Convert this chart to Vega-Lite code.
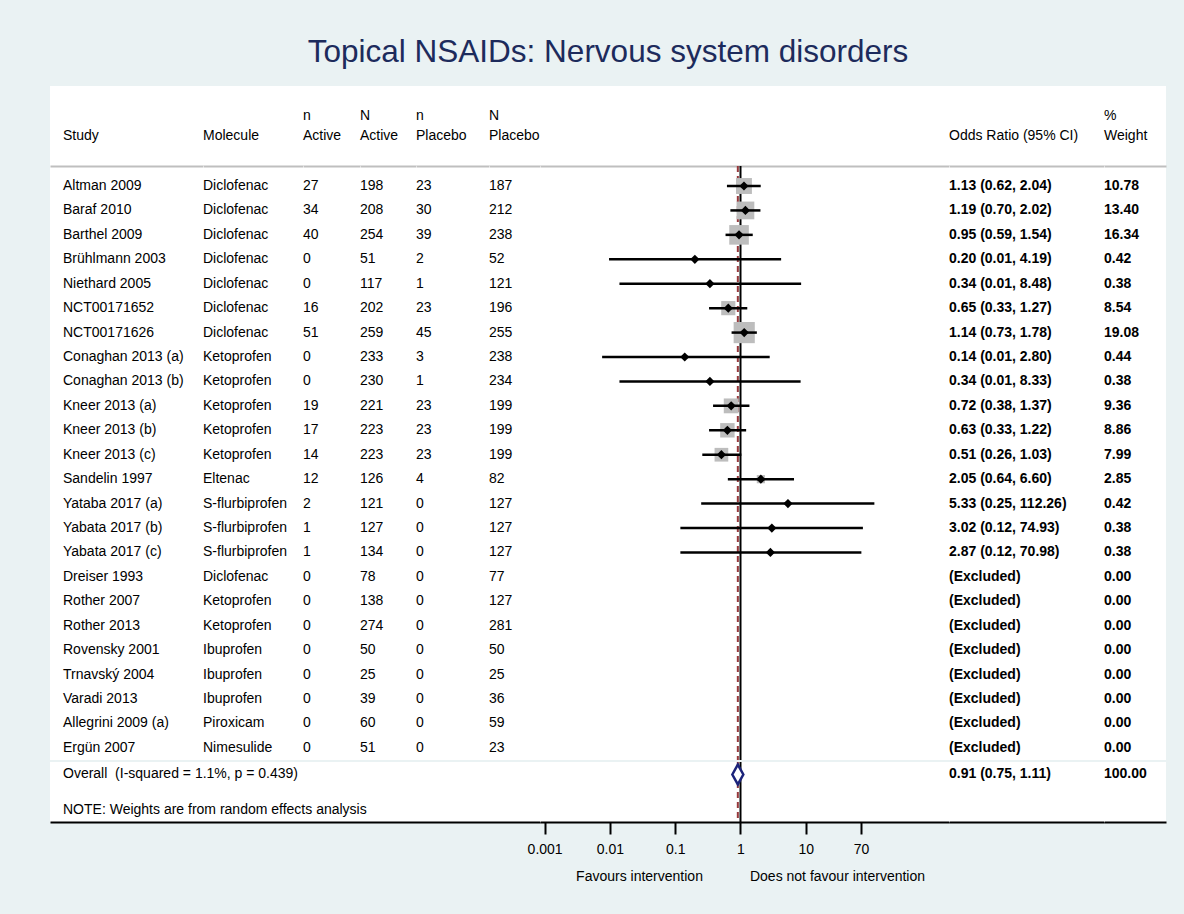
{
"$schema": "https://vega.github.io/schema/vega-lite/v6.json",
"background": "#eaf2f3",
"padding": {"left": 50, "right": 18, "top": 36, "bottom": 34},
"title": {"text": "Topical NSAIDs: Nervous system disorders", "fontSize": 31.5, "font": "Liberation Sans", "fontWeight": "normal", "color": "#1d2b5c", "anchor": "middle", "baseline": "alphabetic", "offset": -7},
"config": {
 "view": {"stroke": null, "fill": "white"},
 "font": "Liberation Sans",
 "text": {"font": "Liberation Sans", "fontSize": 14, "color": "black"},
 "axis": {"grid": false, "labelFont": "Liberation Sans", "titleFont": "Liberation Sans", "labelFontSize": 14, "titleFontSize": 14, "titleFontWeight": "normal", "labelColor": "black", "titleColor": "black"}
},
"datasets": {"rows": [
 {"type":"study","s":"Altman 2009","m":"Diclofenac","na":27,"Na":198,"np":23,"Np":187,"or":1.13,"lo":0.62,"hi":2.04,"w":10.78},
 {"type":"study","s":"Baraf 2010","m":"Diclofenac","na":34,"Na":208,"np":30,"Np":212,"or":1.19,"lo":0.70,"hi":2.02,"w":13.40},
 {"type":"study","s":"Barthel 2009","m":"Diclofenac","na":40,"Na":254,"np":39,"Np":238,"or":0.95,"lo":0.59,"hi":1.54,"w":16.34},
 {"type":"study","s":"Brühlmann 2003","m":"Diclofenac","na":0,"Na":51,"np":2,"Np":52,"or":0.20,"lo":0.0097,"hi":4.19,"w":0.42},
 {"type":"study","s":"Niethard 2005","m":"Diclofenac","na":0,"Na":117,"np":1,"Np":121,"or":0.34,"lo":0.014,"hi":8.48,"w":0.38},
 {"type":"study","s":"NCT00171652","m":"Diclofenac","na":16,"Na":202,"np":23,"Np":196,"or":0.65,"lo":0.33,"hi":1.27,"w":8.54},
 {"type":"study","s":"NCT00171626","m":"Diclofenac","na":51,"Na":259,"np":45,"Np":255,"or":1.14,"lo":0.73,"hi":1.78,"w":19.08},
 {"type":"study","s":"Conaghan 2013 (a)","m":"Ketoprofen","na":0,"Na":233,"np":3,"Np":238,"or":0.14,"lo":0.0076,"hi":2.80,"w":0.44},
 {"type":"study","s":"Conaghan 2013 (b)","m":"Ketoprofen","na":0,"Na":230,"np":1,"Np":234,"or":0.34,"lo":0.014,"hi":8.33,"w":0.38},
 {"type":"study","s":"Kneer 2013 (a)","m":"Ketoprofen","na":19,"Na":221,"np":23,"Np":199,"or":0.72,"lo":0.38,"hi":1.37,"w":9.36},
 {"type":"study","s":"Kneer 2013 (b)","m":"Ketoprofen","na":17,"Na":223,"np":23,"Np":199,"or":0.63,"lo":0.33,"hi":1.22,"w":8.86},
 {"type":"study","s":"Kneer 2013 (c)","m":"Ketoprofen","na":14,"Na":223,"np":23,"Np":199,"or":0.51,"lo":0.26,"hi":1.03,"w":7.99},
 {"type":"study","s":"Sandelin 1997","m":"Eltenac","na":12,"Na":126,"np":4,"Np":82,"or":2.05,"lo":0.64,"hi":6.60,"w":2.85},
 {"type":"study","s":"Yataba 2017 (a)","m":"S-flurbiprofen","na":2,"Na":121,"np":0,"Np":127,"or":5.33,"lo":0.25,"hi":112.26,"w":0.42},
 {"type":"study","s":"Yabata 2017 (b)","m":"S-flurbiprofen","na":1,"Na":127,"np":0,"Np":127,"or":3.02,"lo":0.12,"hi":74.93,"w":0.38},
 {"type":"study","s":"Yabata 2017 (c)","m":"S-flurbiprofen","na":1,"Na":134,"np":0,"Np":127,"or":2.87,"lo":0.12,"hi":70.98,"w":0.38},
 {"type":"study","s":"Dreiser 1993","m":"Diclofenac","na":0,"Na":78,"np":0,"Np":77,"w":0},
 {"type":"study","s":"Rother 2007","m":"Ketoprofen","na":0,"Na":138,"np":0,"Np":127,"w":0},
 {"type":"study","s":"Rother 2013","m":"Ketoprofen","na":0,"Na":274,"np":0,"Np":281,"w":0},
 {"type":"study","s":"Rovensky 2001","m":"Ibuprofen","na":0,"Na":50,"np":0,"Np":50,"w":0},
 {"type":"study","s":"Trnavský 2004","m":"Ibuprofen","na":0,"Na":25,"np":0,"Np":25,"w":0},
 {"type":"study","s":"Varadi 2013","m":"Ibuprofen","na":0,"Na":39,"np":0,"Np":36,"w":0},
 {"type":"study","s":"Allegrini 2009 (a)","m":"Piroxicam","na":0,"Na":60,"np":0,"Np":59,"w":0},
 {"type":"study","s":"Ergün 2007","m":"Nimesulide","na":0,"Na":51,"np":0,"Np":23,"w":0},
 {"type":"overall","s":"Overall\u00a0 (I-squared = 1.1%, p = 0.439)","or":0.91,"lo":0.75,"hi":1.11,"w":100},
 {"type":"note","s":"NOTE: Weights are from random effects analysis"}
]},
"spacing": -2,
"vconcat": [
 {"spacing": 0, "bounds": "flush", "hconcat": [
  {"width":153,"height":80,"data":{"values":[{"h":"Study"}]},"mark":{"type":"text","align":"left","baseline":"middle","dx":13,"dy":10},"encoding":{"x":{"datum":0,"type":"quantitative","scale":{"domain":[0,1]},"axis":null},"text":{"field":"h"}}},
  {"width":100,"height":80,"data":{"values":[{"h":"Molecule"}]},"mark":{"type":"text","align":"left","baseline":"middle","dy":10},"encoding":{"x":{"datum":0,"type":"quantitative","scale":{"domain":[0,1]},"axis":null},"text":{"field":"h"}}},
  {"width":57,"height":80,"data":{"values":[{"h":["n","Active"]}]},"mark":{"type":"text","align":"left","baseline":"middle","lineHeight":20,"dy":-10},"encoding":{"x":{"datum":0,"type":"quantitative","scale":{"domain":[0,1]},"axis":null},"text":{"field":"h"}}},
  {"width":56,"height":80,"data":{"values":[{"h":["N","Active"]}]},"mark":{"type":"text","align":"left","baseline":"middle","lineHeight":20,"dy":-10},"encoding":{"x":{"datum":0,"type":"quantitative","scale":{"domain":[0,1]},"axis":null},"text":{"field":"h"}}},
  {"width":73,"height":80,"data":{"values":[{"h":["n","Placebo"]}]},"mark":{"type":"text","align":"left","baseline":"middle","lineHeight":20,"dy":-10},"encoding":{"x":{"datum":0,"type":"quantitative","scale":{"domain":[0,1]},"axis":null},"text":{"field":"h"}}},
  {"width":460,"height":80,"data":{"values":[{"h":["N","Placebo"]}]},"mark":{"type":"text","align":"left","baseline":"middle","lineHeight":20,"dy":-10},"encoding":{"x":{"datum":0,"type":"quantitative","scale":{"domain":[0,1]},"axis":null},"text":{"field":"h"}}},
  {"width":155,"height":80,"data":{"values":[{"h":"Odds Ratio (95% CI)"}]},"mark":{"type":"text","align":"left","baseline":"middle","dy":10},"encoding":{"x":{"datum":0,"type":"quantitative","scale":{"domain":[0,1]},"axis":null},"text":{"field":"h"}}},
  {"width":62,"height":80,"data":{"values":[{"h":["%","Weight"]}]},"mark":{"type":"text","align":"left","baseline":"middle","lineHeight":20,"dy":-10},"encoding":{"x":{"datum":0,"type":"quantitative","scale":{"domain":[0,1]},"axis":null},"text":{"field":"h"}}}
 ]},
 {"spacing": 0, "bounds": "flush", "hconcat": [
  {"width":153,"height":594,"data":{"name":"rows"},"transform":[{"filter":"datum.type == 'study'"}],"mark":{"type":"text","align":"left","baseline":"middle","dx":13},
   "encoding":{"x":{"datum":0,"type":"quantitative","scale":{"domain":[0,1]},"axis":{"orient":"top","domainColor":"#bfbfbf","domainWidth":2,"ticks":false,"labels":false,"title":null}},
    "y":{"field":"s","type":"nominal","sort":null,"scale":{"type":"point","domain":["Altman 2009","Baraf 2010","Barthel 2009","Brühlmann 2003","Niethard 2005","NCT00171652","NCT00171626","Conaghan 2013 (a)","Conaghan 2013 (b)","Kneer 2013 (a)","Kneer 2013 (b)","Kneer 2013 (c)","Sandelin 1997","Yataba 2017 (a)","Yabata 2017 (b)","Yabata 2017 (c)","Dreiser 1993","Rother 2007","Rother 2013","Rovensky 2001","Trnavský 2004","Varadi 2013","Allegrini 2009 (a)","Ergün 2007"],"padding":0.657,"align":0.623},"axis":null},
    "text":{"field":"s"}}},
  {"width":100,"height":594,"data":{"name":"rows"},"transform":[{"filter":"datum.type == 'study'"}],"mark":{"type":"text","align":"left","baseline":"middle"},
   "encoding":{"x":{"datum":0,"type":"quantitative","scale":{"domain":[0,1]},"axis":{"orient":"top","domainColor":"#bfbfbf","domainWidth":2,"ticks":false,"labels":false,"title":null}},
    "y":{"field":"s","type":"nominal","sort":null,"scale":{"type":"point","domain":["Altman 2009","Baraf 2010","Barthel 2009","Brühlmann 2003","Niethard 2005","NCT00171652","NCT00171626","Conaghan 2013 (a)","Conaghan 2013 (b)","Kneer 2013 (a)","Kneer 2013 (b)","Kneer 2013 (c)","Sandelin 1997","Yataba 2017 (a)","Yabata 2017 (b)","Yabata 2017 (c)","Dreiser 1993","Rother 2007","Rother 2013","Rovensky 2001","Trnavský 2004","Varadi 2013","Allegrini 2009 (a)","Ergün 2007"],"padding":0.657,"align":0.623},"axis":null},
    "text":{"field":"m"}}},
  {"width":57,"height":594,"data":{"name":"rows"},"transform":[{"filter":"datum.type == 'study'"}],"mark":{"type":"text","align":"left","baseline":"middle"},
   "encoding":{"x":{"datum":0,"type":"quantitative","scale":{"domain":[0,1]},"axis":{"orient":"top","domainColor":"#bfbfbf","domainWidth":2,"ticks":false,"labels":false,"title":null}},
    "y":{"field":"s","type":"nominal","sort":null,"scale":{"type":"point","domain":["Altman 2009","Baraf 2010","Barthel 2009","Brühlmann 2003","Niethard 2005","NCT00171652","NCT00171626","Conaghan 2013 (a)","Conaghan 2013 (b)","Kneer 2013 (a)","Kneer 2013 (b)","Kneer 2013 (c)","Sandelin 1997","Yataba 2017 (a)","Yabata 2017 (b)","Yabata 2017 (c)","Dreiser 1993","Rother 2007","Rother 2013","Rovensky 2001","Trnavský 2004","Varadi 2013","Allegrini 2009 (a)","Ergün 2007"],"padding":0.657,"align":0.623},"axis":null},
    "text":{"field":"na","type":"nominal"}}},
  {"width":56,"height":594,"data":{"name":"rows"},"transform":[{"filter":"datum.type == 'study'"}],"mark":{"type":"text","align":"left","baseline":"middle"},
   "encoding":{"x":{"datum":0,"type":"quantitative","scale":{"domain":[0,1]},"axis":{"orient":"top","domainColor":"#bfbfbf","domainWidth":2,"ticks":false,"labels":false,"title":null}},
    "y":{"field":"s","type":"nominal","sort":null,"scale":{"type":"point","domain":["Altman 2009","Baraf 2010","Barthel 2009","Brühlmann 2003","Niethard 2005","NCT00171652","NCT00171626","Conaghan 2013 (a)","Conaghan 2013 (b)","Kneer 2013 (a)","Kneer 2013 (b)","Kneer 2013 (c)","Sandelin 1997","Yataba 2017 (a)","Yabata 2017 (b)","Yabata 2017 (c)","Dreiser 1993","Rother 2007","Rother 2013","Rovensky 2001","Trnavský 2004","Varadi 2013","Allegrini 2009 (a)","Ergün 2007"],"padding":0.657,"align":0.623},"axis":null},
    "text":{"field":"Na","type":"nominal"}}},
  {"width":73,"height":594,"data":{"name":"rows"},"transform":[{"filter":"datum.type == 'study'"}],"mark":{"type":"text","align":"left","baseline":"middle"},
   "encoding":{"x":{"datum":0,"type":"quantitative","scale":{"domain":[0,1]},"axis":{"orient":"top","domainColor":"#bfbfbf","domainWidth":2,"ticks":false,"labels":false,"title":null}},
    "y":{"field":"s","type":"nominal","sort":null,"scale":{"type":"point","domain":["Altman 2009","Baraf 2010","Barthel 2009","Brühlmann 2003","Niethard 2005","NCT00171652","NCT00171626","Conaghan 2013 (a)","Conaghan 2013 (b)","Kneer 2013 (a)","Kneer 2013 (b)","Kneer 2013 (c)","Sandelin 1997","Yataba 2017 (a)","Yabata 2017 (b)","Yabata 2017 (c)","Dreiser 1993","Rother 2007","Rother 2013","Rovensky 2001","Trnavský 2004","Varadi 2013","Allegrini 2009 (a)","Ergün 2007"],"padding":0.657,"align":0.623},"axis":null},
    "text":{"field":"np","type":"nominal"}}},
  {"width":51,"height":594,"data":{"name":"rows"},"transform":[{"filter":"datum.type == 'study'"}],"mark":{"type":"text","align":"left","baseline":"middle"},
   "encoding":{"x":{"datum":0,"type":"quantitative","scale":{"domain":[0,1]},"axis":{"orient":"top","domainColor":"#bfbfbf","domainWidth":2,"ticks":false,"labels":false,"title":null}},
    "y":{"field":"s","type":"nominal","sort":null,"scale":{"type":"point","domain":["Altman 2009","Baraf 2010","Barthel 2009","Brühlmann 2003","Niethard 2005","NCT00171652","NCT00171626","Conaghan 2013 (a)","Conaghan 2013 (b)","Kneer 2013 (a)","Kneer 2013 (b)","Kneer 2013 (c)","Sandelin 1997","Yataba 2017 (a)","Yabata 2017 (b)","Yabata 2017 (c)","Dreiser 1993","Rother 2007","Rother 2013","Rovensky 2001","Trnavský 2004","Varadi 2013","Allegrini 2009 (a)","Ergün 2007"],"padding":0.657,"align":0.623},"axis":null},
    "text":{"field":"Np","type":"nominal"}}},
  {"width":409,"height":594,"data":{"name":"rows"},"layer":[
   {"transform":[{"filter":"datum.type == 'overall'"}],"mark":{"type":"rule","color":"black","strokeWidth":2},
    "encoding":{"x":{"datum":1,"type":"quantitative","scale":{"type":"log","domain":[0.00085,1560],"nice":false},"axis":null}}},
   {"transform":[{"filter":"datum.type == 'overall'"}],"mark":{"type":"rule","color":"#96383c","strokeWidth":2,"strokeDash":[6,4]},
    "encoding":{"x":{"field":"or","type":"quantitative","scale":{"type":"log","domain":[0.00085,1560],"nice":false},"axis":{"orient":"top","domainColor":"#bfbfbf","domainWidth":2,"ticks":false,"labels":false,"title":null}}}},
   {"transform":[{"filter":"datum.type == 'study' && isValid(datum.or)"}],"mark":{"type":"point","shape":"square","filled":true,"color":"#bdbdbd","opacity":1},
    "encoding":{"x":{"field":"or","type":"quantitative","scale":{"type":"log","domain":[0.00085,1560],"nice":false},"axis":null},
     "y":{"field":"s","type":"nominal","sort":null,"scale":{"type":"point","domain":["Altman 2009","Baraf 2010","Barthel 2009","Brühlmann 2003","Niethard 2005","NCT00171652","NCT00171626","Conaghan 2013 (a)","Conaghan 2013 (b)","Kneer 2013 (a)","Kneer 2013 (b)","Kneer 2013 (c)","Sandelin 1997","Yataba 2017 (a)","Yabata 2017 (b)","Yabata 2017 (c)","Dreiser 1993","Rother 2007","Rother 2013","Rovensky 2001","Trnavský 2004","Varadi 2013","Allegrini 2009 (a)","Ergün 2007"],"padding":0.657,"align":0.623},"axis":null},
     "size":{"field":"w","type":"quantitative","scale":{"domain":[0,20],"range":[0,470]},"legend":null}}},
   {"transform":[{"filter":"datum.type == 'study' && isValid(datum.or)"}],"mark":{"type":"rule","color":"black","strokeWidth":2.5},
    "encoding":{"x":{"field":"lo","type":"quantitative","scale":{"type":"log","domain":[0.00085,1560],"nice":false},"axis":null},
     "x2":{"field":"hi"},
     "y":{"field":"s","type":"nominal","sort":null,"scale":{"type":"point","domain":["Altman 2009","Baraf 2010","Barthel 2009","Brühlmann 2003","Niethard 2005","NCT00171652","NCT00171626","Conaghan 2013 (a)","Conaghan 2013 (b)","Kneer 2013 (a)","Kneer 2013 (b)","Kneer 2013 (c)","Sandelin 1997","Yataba 2017 (a)","Yabata 2017 (b)","Yabata 2017 (c)","Dreiser 1993","Rother 2007","Rother 2013","Rovensky 2001","Trnavský 2004","Varadi 2013","Allegrini 2009 (a)","Ergün 2007"],"padding":0.657,"align":0.623},"axis":null}}},
   {"transform":[{"filter":"datum.type == 'study' && isValid(datum.or)"}],"mark":{"type":"point","shape":"diamond","filled":true,"color":"black","size":85,"opacity":1},
    "encoding":{"x":{"field":"or","type":"quantitative","scale":{"type":"log","domain":[0.00085,1560],"nice":false},"axis":null},
     "y":{"field":"s","type":"nominal","sort":null,"scale":{"type":"point","domain":["Altman 2009","Baraf 2010","Barthel 2009","Brühlmann 2003","Niethard 2005","NCT00171652","NCT00171626","Conaghan 2013 (a)","Conaghan 2013 (b)","Kneer 2013 (a)","Kneer 2013 (b)","Kneer 2013 (c)","Sandelin 1997","Yataba 2017 (a)","Yabata 2017 (b)","Yabata 2017 (c)","Dreiser 1993","Rother 2007","Rother 2013","Rovensky 2001","Trnavský 2004","Varadi 2013","Allegrini 2009 (a)","Ergün 2007"],"padding":0.657,"align":0.623},"axis":null}}}
  ],"resolve":{"axis":{"x":"independent"}}},
  {"width":155,"height":594,"data":{"name":"rows"},"transform":[{"filter":"datum.type == 'study'"},{"calculate":"isValid(datum.or) ? format(datum.or,'.2f') + ' (' + format(datum.lo,'.2f') + ', ' + format(datum.hi,'.2f') + ')' : '(Excluded)'","as":"ci"}],"mark":{"type":"text","align":"left","baseline":"middle","fontWeight":"bold"},
   "encoding":{"x":{"datum":0,"type":"quantitative","scale":{"domain":[0,1]},"axis":{"orient":"top","domainColor":"#bfbfbf","domainWidth":2,"ticks":false,"labels":false,"title":null}},
    "y":{"field":"s","type":"nominal","sort":null,"scale":{"type":"point","domain":["Altman 2009","Baraf 2010","Barthel 2009","Brühlmann 2003","Niethard 2005","NCT00171652","NCT00171626","Conaghan 2013 (a)","Conaghan 2013 (b)","Kneer 2013 (a)","Kneer 2013 (b)","Kneer 2013 (c)","Sandelin 1997","Yataba 2017 (a)","Yabata 2017 (b)","Yabata 2017 (c)","Dreiser 1993","Rother 2007","Rother 2013","Rovensky 2001","Trnavský 2004","Varadi 2013","Allegrini 2009 (a)","Ergün 2007"],"padding":0.657,"align":0.623},"axis":null},
    "text":{"field":"ci","type":"nominal"}}},
  {"width":62,"height":594,"data":{"name":"rows"},"transform":[{"filter":"datum.type == 'study'"},{"calculate":"format(datum.w,'.2f')","as":"wt"}],"mark":{"type":"text","align":"left","baseline":"middle","fontWeight":"bold"},
   "encoding":{"x":{"datum":0,"type":"quantitative","scale":{"domain":[0,1]},"axis":{"orient":"top","domainColor":"#bfbfbf","domainWidth":2,"ticks":false,"labels":false,"title":null}},
    "y":{"field":"s","type":"nominal","sort":null,"scale":{"type":"point","domain":["Altman 2009","Baraf 2010","Barthel 2009","Brühlmann 2003","Niethard 2005","NCT00171652","NCT00171626","Conaghan 2013 (a)","Conaghan 2013 (b)","Kneer 2013 (a)","Kneer 2013 (b)","Kneer 2013 (c)","Sandelin 1997","Yataba 2017 (a)","Yabata 2017 (b)","Yabata 2017 (c)","Dreiser 1993","Rother 2007","Rother 2013","Rovensky 2001","Trnavský 2004","Varadi 2013","Allegrini 2009 (a)","Ergün 2007"],"padding":0.657,"align":0.623},"axis":null},
    "text":{"field":"wt","type":"nominal"}}}
 ]},
 {"spacing": 0, "bounds": "flush", "hconcat": [
  {"width":490,"height":60,"data":{"name":"rows"},"transform":[{"filter":"datum.type != 'study'"}],"mark":{"type":"text","align":"left","baseline":"middle","dx":13},
   "encoding":{"x":{"datum":0,"type":"quantitative","scale":{"domain":[0,1]},"axis":{"orient":"bottom","domainColor":"black","domainWidth":2,"ticks":false,"labels":false,"title":null}},
    "y":{"field":"s","type":"nominal","sort":null,"scale":{"type":"point","domain":["Overall\u00a0 (I-squared = 1.1%, p = 0.439)","NOTE: Weights are from random effects analysis"],"padding":0.345,"align":0.51},"axis":null},
    "text":{"field":"s"}}},
  {"width":409,"height":60,"data":{"name":"rows"},"layer":[
   {"transform":[{"filter":"datum.type == 'overall'"}],"mark":{"type":"rule","color":"black","strokeWidth":2},
    "encoding":{"x":{"datum":1,"type":"quantitative","scale":{"type":"log","domain":[0.00085,1560],"nice":false},"axis":null}}},
   {"transform":[{"filter":"datum.type == 'overall'"}],"mark":{"type":"rule","color":"#96383c","strokeWidth":2,"strokeDash":[6,4]},
    "encoding":{"x":{"field":"or","type":"quantitative","scale":{"type":"log","domain":[0.00085,1560],"nice":false},
     "axis":{"orient":"bottom","values":[0.001,0.01,0.1,1,10,70],"format":"~g","domainColor":"black","domainWidth":2,"tickColor":"black","tickWidth":2,"tickSize":12,"labelPadding":8,"labelFlush":false,"labelOverlap":false,"title":"Favours intervention","titleX":99,"titleY":54,"titleAlign":"center","titleBaseline":"middle","titleAnchor":null}}}},
   {"transform":[{"filter":"datum.type == 'overall'"}],"mark":{"type":"point","shape":"M-1,0L0,-1.8L1,0L0,1.8Z","filled":true,"fill":"white","stroke":"#1b237a","strokeWidth":2.5,"size":121,"opacity":1},
    "encoding":{"x":{"field":"or","type":"quantitative","scale":{"type":"log","domain":[0.00085,1560],"nice":false},"axis":null},
     "y":{"field":"s","type":"nominal","sort":null,"scale":{"type":"point","domain":["Overall\u00a0 (I-squared = 1.1%, p = 0.439)","NOTE: Weights are from random effects analysis"],"padding":0.345,"align":0.51},"axis":null}}}
  ],"resolve":{"axis":{"x":"independent"}}},
  {"width":155,"height":60,"data":{"name":"rows"},"transform":[{"filter":"datum.type == 'overall'"},{"calculate":"format(datum.or,'.2f') + ' (' + format(datum.lo,'.2f') + ', ' + format(datum.hi,'.2f') + ')'","as":"ci"}],"mark":{"type":"text","align":"left","baseline":"middle","fontWeight":"bold"},
   "encoding":{"x":{"datum":0,"type":"quantitative","scale":{"domain":[0,1]},"axis":{"orient":"bottom","domainColor":"black","domainWidth":2,"ticks":false,"labels":false,"title":"Does not favour intervention","titleX":-112,"titleY":54,"titleAlign":"center","titleBaseline":"middle","titleAnchor":null}},
    "y":{"field":"s","type":"nominal","sort":null,"scale":{"type":"point","domain":["Overall\u00a0 (I-squared = 1.1%, p = 0.439)","NOTE: Weights are from random effects analysis"],"padding":0.345,"align":0.51},"axis":null},
    "text":{"field":"ci","type":"nominal"}}},
  {"width":62,"height":60,"data":{"name":"rows"},"transform":[{"filter":"datum.type == 'overall'"},{"calculate":"format(datum.w,'.2f')","as":"wt"}],"mark":{"type":"text","align":"left","baseline":"middle","fontWeight":"bold"},
   "encoding":{"x":{"datum":0,"type":"quantitative","scale":{"domain":[0,1]},"axis":{"orient":"bottom","domainColor":"black","domainWidth":2,"ticks":false,"labels":false,"title":null}},
    "y":{"field":"s","type":"nominal","sort":null,"scale":{"type":"point","domain":["Overall\u00a0 (I-squared = 1.1%, p = 0.439)","NOTE: Weights are from random effects analysis"],"padding":0.345,"align":0.51},"axis":null},
    "text":{"field":"wt","type":"nominal"}}}
 ]}
]
}
